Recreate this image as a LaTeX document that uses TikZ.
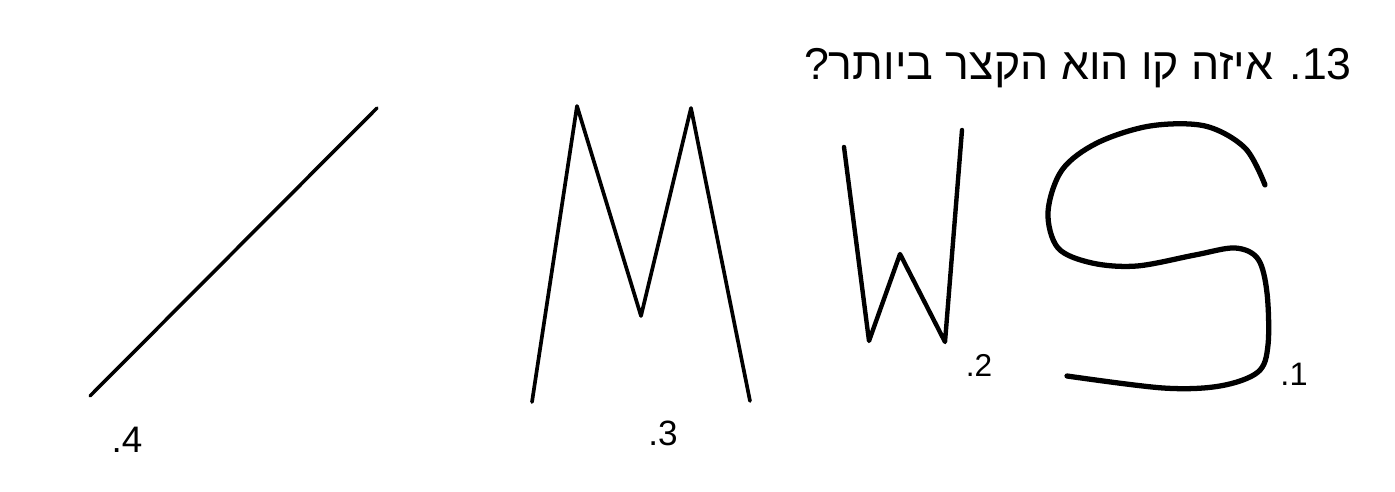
\documentclass[tikz,border=0pt]{standalone}
\usepackage{fontspec}
\setmainfont{Liberation Sans}
\newfontfamily\hebfont[Script=Hebrew]{Liberation Sans}
\TeXXeTstate=1
\usepackage{tikz}
\tikzset{
    shapeline/.style={line width=2.1pt, line cap=round, line join=round},
    numlabel/.style={inner sep=0pt, font=\fontsize{19}{19}\selectfont},
    question/.style={inner sep=0pt, font=\hebfont\fontsize{25.4}{25.4}\selectfont},
}

\begin{document}
\begin{tikzpicture}[x=0.02cm, y=-0.02cm]
\useasboundingbox (0,0) rectangle (1395,492);

% === QUESTION ===
\node[question, anchor=base east] (q) at (1352,80) {\beginR\beginL 13\endL. איזה קו הוא הקצר ביותר?\endR};

% === LINE 4 (straight) ===
\coordinate (a1) at (90,396);
\coordinate (a2) at (377,108);
\draw[shapeline, line width=2pt] (a1) -- (a2);
\node[numlabel, font=\fontsize{21}{21}\selectfont] (l4) at (127,440) {.4};

% === LINE 3 (M) ===
\coordinate (m1) at (532,402);
\coordinate (m2) at (577,106);
\coordinate (m3) at (641,316);
\coordinate (m4) at (691,108);
\coordinate (m5) at (750,401);
\draw[shapeline] (m1) -- (m2) -- (m3) -- (m4) -- (m5);
\node[numlabel, font=\fontsize{20}{20}\selectfont] (l3) at (663,433) {.3};

% === LINE 2 (W) ===
\coordinate (w1) at (844,147);
\coordinate (w2) at (869,341);
\coordinate (w3) at (900,254);
\coordinate (w4) at (945,342);
\coordinate (w5) at (962,130);
\draw[shapeline, line width=2.5pt] (w1) -- (w2) -- (w3) -- (w4) -- (w5);
\node[numlabel, font=\fontsize{18}{18}\selectfont] (l2) at (979,365) {.2};

% === LINE 1 (S) ===
\draw[shapeline, line width=3pt] plot[smooth, tension=0.55] coordinates {
    (1265,185) (1245,148) (1205,126) (1150,126) (1097,143) (1062,170)
    (1048,212) (1058,248) (1092,263) (1137,266) (1195,255) (1235,248)
    (1258,259) (1267,293) (1268,345) (1258,372) (1220,386) (1163,388)
    (1067,376)};
\node[numlabel, font=\fontsize{18.5}{18.5}\selectfont] (l1) at (1294,374) {.1};

\end{tikzpicture}
\end{document}
